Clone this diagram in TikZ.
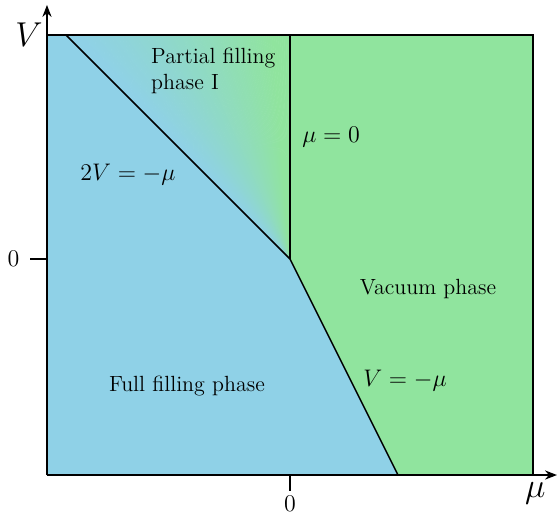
\documentclass[tikz,border=0pt]{standalone}
\usetikzlibrary{arrows.meta}
\definecolor{fullblue}{RGB}{143,209,231}
\definecolor{vacgreen}{RGB}{144,228,158}
\begin{document}
\begin{tikzpicture}[x=1.9cm, y=3.8cm,
  bnd/.style={line width=0.75pt, black},
  axis/.style={line width=0.75pt, -{Stealth[length=6pt,width=4.6pt]}},
  lbl/.style={font=\fontsize{11}{13.2}\selectfont},
  eq/.style={font=\large},
  axlbl/.style={font=\LARGE},
]
  \useasboundingbox (-2.685,-1.171) rectangle (2.472,1.199);
  \coordinate (O) at (0,0);
  \coordinate (dtop) at (-2.074,1.037);
  \coordinate (vtop) at (0,1.037);
  \coordinate (bot) at (1,-1);
  \coordinate (tl) at (-2.25,1.037);
  \coordinate (tr) at (2.25,1.037);
  \coordinate (bl) at (-2.25,-1);
  \coordinate (br) at (2.25,-1);

  % phases
  \fill[fullblue] (bl) -- (tl) -- (dtop) -- (O) -- (bot) -- cycle;
  \fill[vacgreen] (O) -- (vtop) -- (tr) -- (br) -- (bot) -- cycle;
  \foreach \i in {0,...,89} {
    \pgfmathsetmacro{\ta}{45-0.5*\i}
    \pgfmathsetmacro{\tb}{45-0.5*(\i+1)}
    \pgfmathsetmacro{\mix}{max(0,min(100,(44-0.5*(\ta+\tb))/40*100))}
    \fill[vacgreen!\mix!fullblue, draw=vacgreen!\mix!fullblue, line width=0.3pt]
      (O) -- ({-2.074*tan(\ta)},1.037) -- ({-2.074*tan(\tb)},1.037) -- cycle;
  }

  % boundaries
  \draw[bnd] (dtop) -- (O) -- (bot);
  \draw[bnd] (O) -- (vtop);
  \draw[bnd] (bl) -- (tl) -- (tr) -- (br) -- (bl);

  % axes
  \draw[axis] (bl) -- (-2.25,1.176);
  \draw[axis] (bl) -- (2.472,-1);
  \draw[bnd] (-2.407,0) -- (-2.25,0);
  \draw[bnd] (0,-1) -- (0,-1.074);
  \node[axlbl] (vlab) at (-2.417,1.037) {$V$};
  \node[axlbl] (mulab) at (2.27,-1.083) {$\mu$};
  \node[eq] (vzero) at (-2.56,0) {$0$};
  \node[eq] (muzero) at (0,-1.135) {$0$};

  % labels
  \node[lbl, anchor=west, align=left] (partial) at (-1.35,0.87) {Partial filling\\phase I};
  \node[eq] (ldiag) at (-1.5,0.389) {$2V=-\mu$};
  \node[eq, anchor=west] (lvert) at (0.05,0.565) {$\mu=0$};
  \node[lbl] (vac) at (1.278,-0.139) {Vacuum phase};
  \node[eq] (lsteep) at (1.065,-0.565) {$V=-\mu$};
  \node[lbl] (full) at (-0.954,-0.588) {Full filling phase};
\end{tikzpicture}
\end{document}
